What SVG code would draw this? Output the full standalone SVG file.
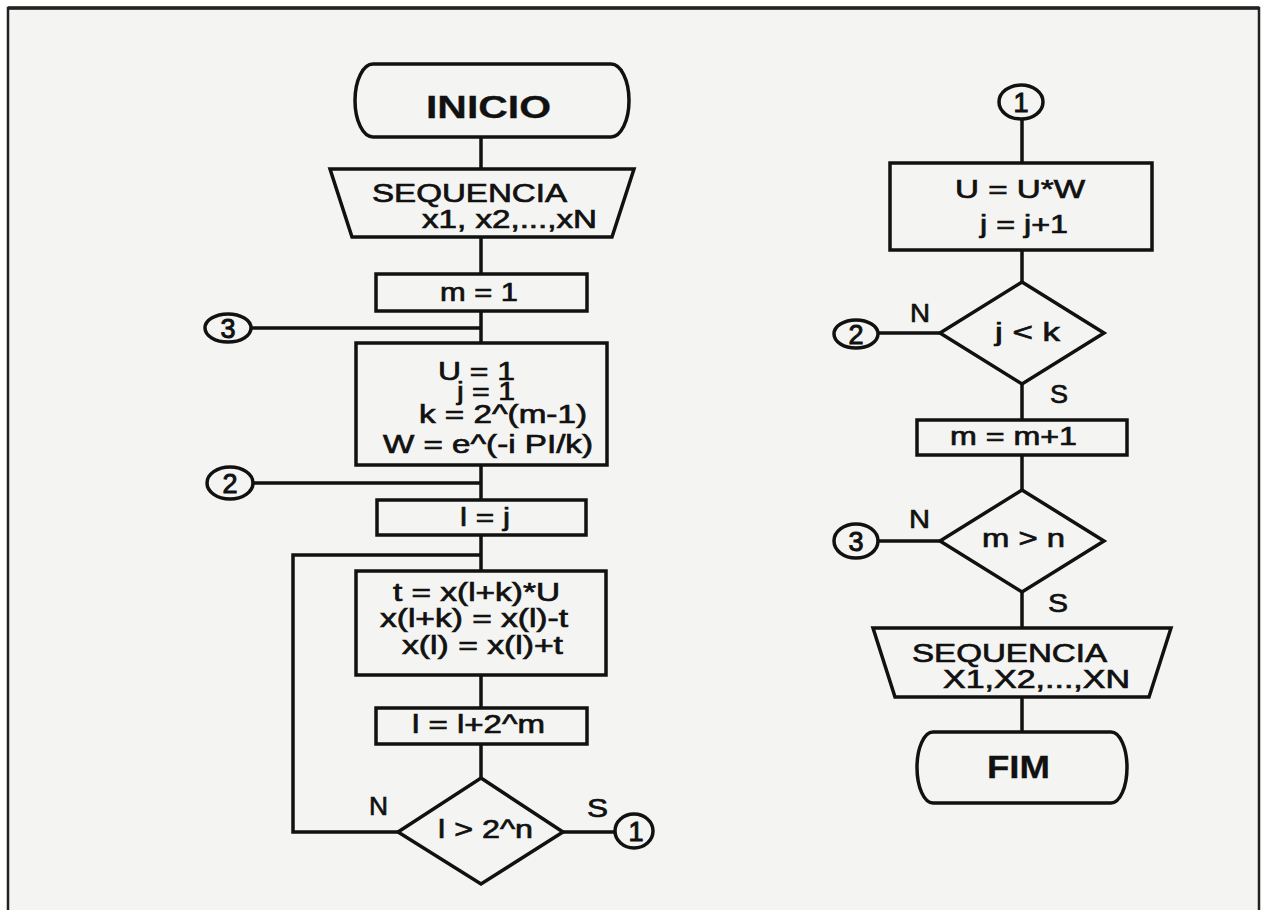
<svg xmlns="http://www.w3.org/2000/svg" width="1266" height="910" viewBox="0 0 1266 910">
<style>
.sh{fill:none;stroke:#111;stroke-width:3.5;stroke-linejoin:miter}
.cn{fill:none;stroke:#111;stroke-width:3.5}
.t{font-family:"Liberation Sans",Arial,sans-serif;font-size:26px;fill:#111;stroke:#111;stroke-width:0.7}
.b{font-size:32px;font-weight:bold;stroke-width:0.3}
.d{font-size:27px;text-anchor:middle;stroke-width:1}
</style>
<rect x="0" y="0" width="1266" height="910" fill="#ffffff"/>
<rect x="8" y="8" width="1251" height="902" fill="#f4f4f2"/>
<path d="M8,910 V8 H1259 V910" fill="none" stroke="#222" stroke-width="2.5"/>
<path d="M8,8 H1259" fill="none" stroke="#222" stroke-width="3.5"/>

<g id="connectors">
<path class="cn" d="M481,137 V169"/>
<path class="cn" d="M481,237 V274"/>
<path class="cn" d="M481,311 V343"/>
<path class="cn" d="M251,328 H481"/>
<path class="cn" d="M481,465 V500"/>
<path class="cn" d="M253,483 H481"/>
<path class="cn" d="M481,535 V571"/>
<path class="cn" d="M398,832 H293 V555 H481"/>
<path class="cn" d="M481,675 V708"/>
<path class="cn" d="M481,744 V778"/>
<path class="cn" d="M563,832 H615"/>
<path class="cn" d="M1022,119 V163"/>
<path class="cn" d="M1022,250 V282"/>
<path class="cn" d="M878,333 H940"/>
<path class="cn" d="M1022,384 V420"/>
<path class="cn" d="M1022,455 V490"/>
<path class="cn" d="M878,541 H940"/>
<path class="cn" d="M1022,592 V628"/>
<path class="cn" d="M1022,697 V732"/>
</g>

<g id="inicio">
<path class="sh" d="M373,64 H611 A18,36.5 0 0 1 611,137 H373 A18,36.5 0 0 1 373,64 Z"/>
<text class="t b" x="426" y="118" textLength="125" lengthAdjust="spacingAndGlyphs">INICIO</text>
</g>
<g id="entrada">
<polygon class="sh" points="330,169 634,169 612,237 352,237"/>
<text class="t" x="372" y="202" textLength="195" lengthAdjust="spacingAndGlyphs">SEQUENCIA</text>
<text class="t" x="422" y="228" textLength="175" lengthAdjust="spacingAndGlyphs">x1, x2,...,xN</text>
</g>
<g id="m1">
<rect class="sh" x="376" y="274" width="211" height="37"/>
<text class="t" x="440" y="301" textLength="78" lengthAdjust="spacingAndGlyphs">m = 1</text>
</g>
<g id="init">
<rect class="sh" x="356" y="343" width="251" height="122"/>
<text class="t" x="438" y="380" textLength="77" lengthAdjust="spacingAndGlyphs">U = 1</text>
<text class="t" x="457" y="400" textLength="58" lengthAdjust="spacingAndGlyphs">j = 1</text>
<text class="t" x="419" y="423" textLength="168" lengthAdjust="spacingAndGlyphs">k = 2^(m-1)</text>
<text class="t" x="383" y="453" textLength="210" lengthAdjust="spacingAndGlyphs">W = e^(-i PI/k)</text>
</g>
<g id="lj">
<rect class="sh" x="377" y="500" width="209" height="35"/>
<text class="t" x="460" y="526" textLength="50" lengthAdjust="spacingAndGlyphs">l = j</text>
</g>
<g id="butterfly">
<rect class="sh" x="356" y="571" width="250" height="104"/>
<text class="t" x="393" y="601" textLength="167" lengthAdjust="spacingAndGlyphs">t = x(l+k)*U</text>
<text class="t" x="380" y="627" textLength="188" lengthAdjust="spacingAndGlyphs">x(l+k) = x(l)-t</text>
<text class="t" x="402" y="654" textLength="161" lengthAdjust="spacingAndGlyphs">x(l) = x(l)+t</text>
</g>
<g id="linc">
<rect class="sh" x="376" y="708" width="211" height="36"/>
<text class="t" x="412" y="733" textLength="133" lengthAdjust="spacingAndGlyphs">l = l+2^m</text>
</g>
<g id="dec1">
<polygon class="sh" points="481,778 563,832 481,884 398,832"/>
<text class="t" x="438" y="838" textLength="95" lengthAdjust="spacingAndGlyphs">l &gt; 2^n</text>
<text class="t" x="369" y="815" textLength="19" lengthAdjust="spacingAndGlyphs">N</text>
<text class="t" x="587" y="817" textLength="21" lengthAdjust="spacingAndGlyphs">S</text>
</g>
<g id="c3a">
<ellipse class="sh" cx="228" cy="328" rx="23" ry="14"/>
<text class="t d" x="228" y="338">3</text>
</g>
<g id="c2a">
<ellipse class="sh" cx="230" cy="483" rx="23" ry="16"/>
<text class="t d" x="230" y="493">2</text>
</g>
<g id="c1a">
<ellipse class="sh" cx="634" cy="831" rx="19" ry="17"/>
<text class="t d" x="636" y="841">1</text>
</g>

<g id="c1b">
<ellipse class="sh" cx="1021" cy="102" rx="22" ry="17"/>
<text class="t d" x="1021" y="112">1</text>
</g>
<g id="uw">
<rect class="sh" x="890" y="163" width="262" height="87"/>
<text class="t" x="955" y="198" textLength="130" lengthAdjust="spacingAndGlyphs">U = U*W</text>
<text class="t" x="980" y="233" textLength="88" lengthAdjust="spacingAndGlyphs">j = j+1</text>
</g>
<g id="dec2">
<polygon class="sh" points="1022,282 1104,333 1022,384 940,333"/>
<text class="t" x="995" y="341" textLength="65" lengthAdjust="spacingAndGlyphs">j &lt; k</text>
<text class="t" x="910" y="322" textLength="20" lengthAdjust="spacingAndGlyphs">N</text>
<text class="t" x="1050" y="403" textLength="18" lengthAdjust="spacingAndGlyphs">S</text>
</g>
<g id="c2b">
<ellipse class="sh" cx="856" cy="334" rx="22" ry="14"/>
<text class="t d" x="856" y="344">2</text>
</g>
<g id="minc">
<rect class="sh" x="917" y="420" width="210" height="35"/>
<text class="t" x="950" y="445" textLength="127" lengthAdjust="spacingAndGlyphs">m = m+1</text>
</g>
<g id="dec3">
<polygon class="sh" points="1022,490 1104,541 1022,592 940,541"/>
<text class="t" x="982" y="547" textLength="83" lengthAdjust="spacingAndGlyphs">m &gt; n</text>
<text class="t" x="909" y="528" textLength="21" lengthAdjust="spacingAndGlyphs">N</text>
<text class="t" x="1048" y="612" textLength="20" lengthAdjust="spacingAndGlyphs">S</text>
</g>
<g id="c3b">
<ellipse class="sh" cx="856" cy="541" rx="22" ry="17"/>
<text class="t d" x="856" y="551">3</text>
</g>
<g id="saida">
<polygon class="sh" points="873,628 1171,628 1149,697 895,697"/>
<text class="t" x="912" y="662" textLength="195" lengthAdjust="spacingAndGlyphs">SEQUENCIA</text>
<text class="t" x="943" y="688" textLength="187" lengthAdjust="spacingAndGlyphs">X1,X2,...,XN</text>
</g>
<g id="fim">
<path class="sh" d="M933,732 H1111 A16,35.5 0 0 1 1111,803 H933 A16,35.5 0 0 1 933,732 Z"/>
<text class="t b" x="987" y="778" textLength="63" lengthAdjust="spacingAndGlyphs">FIM</text>
</g>
</svg>
